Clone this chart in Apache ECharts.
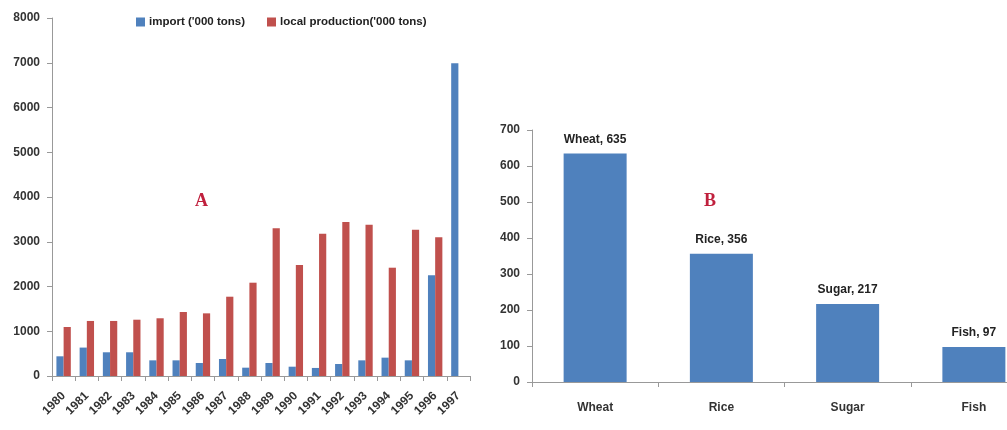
<!DOCTYPE html>
<html><head><meta charset="utf-8">
<script src="https://cdn.jsdelivr.net/npm/echarts@6/dist/echarts.min.js"></script>
<style>html,body{margin:0;padding:0;background:#fff}#c{width:1007px;height:430px}</style>
</head><body><div id="c"></div>
<script>
var years = ['1980','1981','1982','1983','1984','1985','1986','1987','1988','1989','1990','1991','1992','1993','1994','1995','1996','1997'];
var importVals = [440, 635, 530, 530, 350, 350, 290, 380, 186, 290, 208, 180, 268, 350, 410, 350, 2250, 6990];
var localVals = [1095, 1230, 1230, 1258, 1290, 1430, 1400, 1772, 2085, 3300, 2480, 3180, 3440, 3380, 2420, 3270, 3100, null];
var foods = ['Wheat', 'Rice', 'Sugar', 'Fish'];
var foodVals = [635, 356, 217, 97];
var leftTicks = [0, 8000, 1000];
var rightTicks = [0, 700, 100];

var FONT = "'Liberation Sans','DejaVu Sans',sans-serif";
var axisLabelStyle = {color: '#333', fontWeight: 'bold', fontSize: 12, fontFamily: FONT};
var axisLineStyle = {lineStyle: {color: '#999', width: 1}};
var plain = function (v) { return String(v); };

var chart = echarts.init(document.getElementById('c'));
chart.setOption({
  animation: false,
  backgroundColor: '#fff',
  textStyle: {fontFamily: FONT},
  legend: {
    data: ["import ('000 tons)", "local production('000 tons)"],
    left: 131, top: 11, itemWidth: 9, itemHeight: 9, itemGap: 22,
    textStyle: {color: '#222', fontWeight: 'bold', fontSize: 11.5, fontFamily: FONT, padding: [0, 0, 0, -1]},
    icon: 'rect'
  },
  title: [
    {text: 'A', left: 190, top: 187, textStyle: {color: '#C0203D', fontFamily: "'Liberation Serif','DejaVu Serif',serif", fontWeight: 'bold', fontSize: 18}},
    {text: 'B', left: 699, top: 187, textStyle: {color: '#C0203D', fontFamily: "'Liberation Serif','DejaVu Serif',serif", fontWeight: 'bold', fontSize: 18}}
  ],
  grid: [
    {left: 52, top: 18, width: 418, height: 358, outerBoundsMode: 'none', containLabel: false},
    {left: 532, top: 130, width: 505, height: 252, outerBoundsMode: 'none', containLabel: false}
  ],
  xAxis: [
    {type: 'category', gridIndex: 0, data: years,
     axisLine: axisLineStyle, axisTick: {show: true, alignWithLabel: false, length: 5, lineStyle: {color: '#999'}},
     axisLabel: Object.assign({rotate: 45, interval: 0, margin: 18}, axisLabelStyle)},
    {type: 'category', gridIndex: 1, data: foods,
     axisLine: axisLineStyle, axisTick: {show: true, length: 5, lineStyle: {color: '#999'}},
     axisLabel: Object.assign({margin: 20}, axisLabelStyle)}
  ],
  yAxis: [
    {type: 'value', gridIndex: 0, min: leftTicks[0], max: leftTicks[1], interval: leftTicks[2],
     axisLine: Object.assign({show: true}, axisLineStyle), axisTick: {show: true, length: 5, lineStyle: {color: '#999'}},
     splitLine: {show: false}, axisLabel: Object.assign({margin: 12, formatter: plain}, axisLabelStyle)},
    {type: 'value', gridIndex: 1, min: rightTicks[0], max: rightTicks[1], interval: rightTicks[2],
     axisLine: Object.assign({show: true}, axisLineStyle), axisTick: {show: true, length: 5, lineStyle: {color: '#999'}},
     splitLine: {show: false}, axisLabel: Object.assign({margin: 12, formatter: plain}, axisLabelStyle)}
  ],
  series: [
    {name: "import ('000 tons)", type: 'bar', xAxisIndex: 0, yAxisIndex: 0, data: importVals,
     itemStyle: {color: '#4F81BD'}, barGap: '0%', barCategoryGap: '38%'},
    {name: "local production('000 tons)", type: 'bar', xAxisIndex: 0, yAxisIndex: 0, data: localVals,
     itemStyle: {color: '#C0504D'}, barGap: '0%', barCategoryGap: '38%'},
    {name: 'food', type: 'bar', xAxisIndex: 1, yAxisIndex: 1, data: foodVals,
     itemStyle: {color: '#4F81BD'}, barWidth: 63,
     label: {show: true, position: 'top', distance: 8, formatter: '{b}, {c}', color: '#222', fontWeight: 'bold', fontSize: 12, fontFamily: FONT}}
  ]
});
</script></body></html>
